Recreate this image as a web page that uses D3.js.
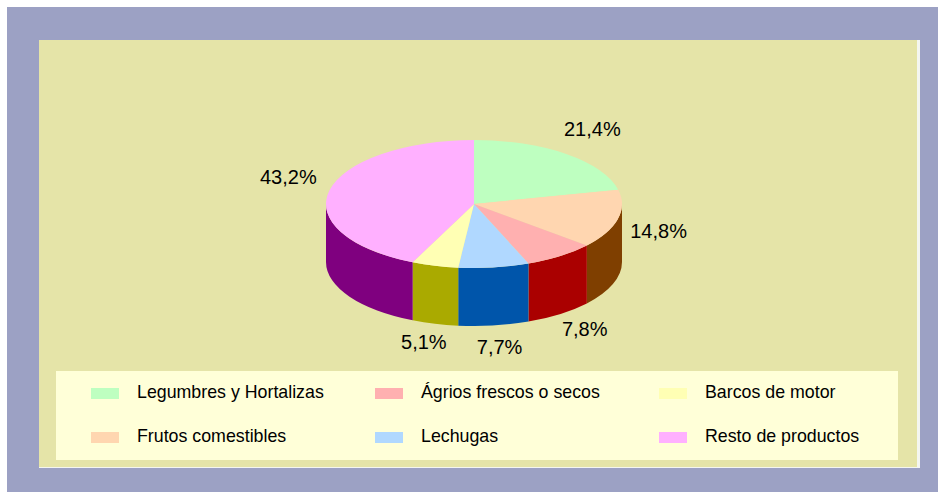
<!DOCTYPE html>
<html><head><meta charset="utf-8">
<script src="https://cdn.jsdelivr.net/npm/d3@7/dist/d3.min.js"></script>
<style>html,body{margin:0;padding:0;background:#fff;}svg{display:block;}</style>
</head><body>
<svg id="chart" width="938" height="492"></svg>
<script>
const categories = ["Legumbres y Hortalizas","Frutos comestibles","Ágrios frescos o secos","Lechugas","Barcos de motor","Resto de productos"];
const values = [21.4, 14.8, 7.8, 7.7, 5.1, 43.2];
const valueLabels = ["21,4%","14,8%","7,8%","7,7%","5,1%","43,2%"];
const topColors = ["#BEFFC0","#FFD6B0","#FFB0B0","#B0D8FF","#FFFFB4","#FFB0FF"];
const sideColors = ["#3F7F3F","#7F3F00","#AA0000","#0055AA","#AAAA00","#7F007F"];
const legendOrder = [0,1,2,3,4,5];

const svg = d3.select("#chart");
const W = 938, H = 492;
svg.append("rect").attr("x",0).attr("y",0).attr("width",W).attr("height",H).attr("fill","#fff");
svg.append("rect").attr("x",7).attr("y",7).attr("width",W-7).attr("height",H-7).attr("fill","#9CA1C4");
svg.append("rect").attr("x",39).attr("y",40).attr("width",881).attr("height",428).attr("fill","#F4F6F0");
svg.append("rect").attr("x",39).attr("y",40).attr("width",878).attr("height",427).attr("fill","#E5E4A8");

// 3D pie
const cx = 474, cy = 204, rx = 148, ry = 64, depth = 58;
const pie = d3.pie().sort(null).value(d => d).startAngle(0).endAngle(2*Math.PI);
const arcs = pie(values);
const P = (a, dy=0) => [cx + rx*Math.sin(a), cy - ry*Math.cos(a) + dy];

const g = svg.append("g");
arcs.forEach((d,i) => {
  const a0 = Math.max(d.startAngle, Math.PI/2), a1 = Math.min(d.endAngle, 3*Math.PI/2);
  if (a1 <= a0) return;
  const p0 = P(a0), p1 = P(a1), q1 = P(a1, depth), q0 = P(a0, depth);
  const large = (a1 - a0) > Math.PI ? 1 : 0;
  const path = `M${p0}A${rx},${ry} 0 ${large} 1 ${p1}L${q1}A${rx},${ry} 0 ${large} 0 ${q0}Z`;
  g.append("path").attr("d", path).attr("fill", sideColors[i]);
});
arcs.forEach((d,i) => {
  const p0 = P(d.startAngle), p1 = P(d.endAngle);
  const large = (d.endAngle - d.startAngle) > Math.PI ? 1 : 0;
  const path = `M${cx},${cy}L${p0}A${rx},${ry} 0 ${large} 1 ${p1}Z`;
  g.append("path").attr("d", path).attr("fill", topColors[i]);
});

// silhouette bottom edge of the pie at a given x
const bottomAt = x => {
  const u = (x - cx) / rx;
  if (Math.abs(u) >= 1) return -Infinity;
  return cy + depth + ry * Math.sqrt(1 - u*u);
};

// value labels
const Rx = 190, Ry = 90, D = 55, E = 8, gap = 9, capHalf = 7;
arcs.forEach((d,i) => {
  const m = (d.startAngle + d.endAngle)/2;
  const x = cx + Rx*Math.sin(m);
  let y = cy - Ry*Math.cos(m) + D*Math.max(0, -Math.cos(m)) - E*Math.abs(Math.sin(m));
  const t = svg.append("text").attr("x", x)
    .attr("text-anchor","middle").attr("dominant-baseline","central")
    .attr("font-family","'Liberation Sans', Arial, sans-serif").attr("font-size", 20)
    .attr("fill","#000").text(valueLabels[i]);
  if (Math.cos(m) < 0) {
    const w = t.node().getComputedTextLength();
    const nearX = x > cx ? x - w/2 : x + w/2;
    y = Math.max(y, bottomAt(nearX) + gap + capHalf);
  }
  t.attr("y", y);
});

// legend
svg.append("rect").attr("x",56).attr("y",371).attr("width",842).attr("height",89).attr("fill","#FFFFD8");
const colX = d3.scalePoint().domain([0,1,2]).range([91, 659]);
const rowY = d3.scalePoint().domain([0,1]).range([388, 432]);
legendOrder.forEach((ci, k) => {
  const col = Math.floor(k/2), row = k%2;
  const x = colX(col), y = rowY(row);
  svg.append("rect").attr("x", x).attr("y", y).attr("width", 28).attr("height", 11).attr("fill", topColors[ci]);
  svg.append("text").attr("x", x + 46).attr("y", y + 10)
    .attr("font-family","'Liberation Sans', Arial, sans-serif").attr("font-size", 17.8)
    .attr("fill","#000").text(categories[ci]);
});
</script>
</body></html>
